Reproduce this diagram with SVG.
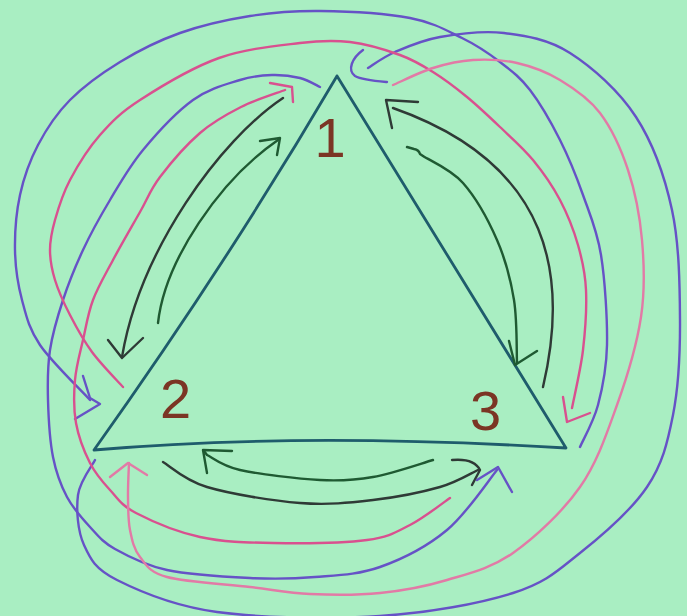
<svg xmlns="http://www.w3.org/2000/svg" width="687" height="616" viewBox="0 0 687 616">
<style>
.pen{fill:none;stroke-width:2.4;stroke-linecap:round;stroke-linejoin:round}
.tri{stroke:#1f5c6c;stroke-width:2.8}
.blk{stroke:#2f3a36}
.grn{stroke:#1f5a32}
.pnk{stroke:#d9508f}
.pnk2{stroke:#e27aa6}
.pur{stroke:#6652c6}
.lbl{font-family:"Liberation Sans",Arial,sans-serif;font-size:56px;fill:#7b3524}
</style>
<rect width="687" height="616" fill="#a9eec2"/>
<g id="triangle">
<path class="pen tri" d="M337,76 Q228,262 94,450 Q300,432 566,448 L337,76"/>
</g>
<g id="node-1"><text class="lbl" x="330" y="157" text-anchor="middle">1</text></g>
<g id="node-2"><text class="lbl" x="160" y="418">2</text></g>
<g id="node-3"><text class="lbl" x="470" y="430">3</text></g>
<g id="connectors">
<!-- direct dark arrows -->
<path class="pen blk" d="M283,98 C220,140 140,250 122,357"/>
<path class="pen blk" d="M108,340 L122,358 L143,338"/>
<path class="pen grn" d="M158,323 C165,260 220,180 278,140"/>
<path class="pen grn" d="M260,141 L280,138 L277,155"/>
<path class="pen blk" d="M543,387 C568,280 555,165 393,108"/>
<path class="pen blk" d="M418,102 L386,100 L392,128"/>
<path class="pen grn" d="M407,147 L414,149 Q419,150 420,154 L423,156 C429.7,160.5 450.7,169 463,183 S488.5,220.5 497,240 S510.7,279.5 514,300 S516.5,352.5 517,363"/>
<path class="pen grn" d="M509,341 L515,365 L537,351"/>
<path class="pen grn" d="M433,460 C423,462.8 391.8,473.7 373,477 S342.2,481.2 320,480 S258.8,474.2 240,470 S212.5,457.5 207,455 L204,451"/>
<path class="pen grn" d="M232,451 L203,450 L207,473"/>
<path class="pen blk" d="M163,462 C170.3,466.2 184.2,480.2 207,487 S272.3,500.8 300,503 S349.7,502.7 373,500 S422.5,492 440,487 S471.7,472.8 478,470"/>
<path class="pen blk" d="M452,460 Q474,458 480,470 L472,485"/>
<!-- purple: 3 to 2 over the top -->
<path class="pen pur" d="M580,447 C583,440 593.5,422 598,405 S606.5,370 607,345 S605,280 601,255 S589.8,214.2 583,195 S568.8,157.5 560,140 S540,103 530,90 S511.3,70.7 500,62 S477,45.3 462,38 S433.7,22.5 410,18 S346.7,11.3 320,11 S273.3,12.3 250,16 S201.7,25.3 180,33 S138.3,50.8 120,62 S83.7,86.2 70,100 S46.3,129.2 38,145 S23.8,177.5 20,195 S14.7,232.5 15,250 S17.8,284.2 22,300 S28.7,328.3 40,345 S81.7,390.8 90,400"/>
<path class="pen pur" d="M83,376 L90,398 L100,404 L75,419"/>
<!-- purple: 2 to 1 around bottom and right -->
<path class="pen pur" d="M95,460 C92.2,465.8 79.8,480.8 78,495 S77.5,530.8 84,545 S94.8,568.8 117,580 S173.2,606 217,612 S330.7,619.2 380,616 S479.7,603.5 513,593 S557.7,570.7 580,553 S631.5,510 647,487 S667.5,442.8 673,415 S680.2,354.2 680,320 S679.3,243.8 672,210 S653,143.2 636,117 S592,67 570,53 S525.7,35.7 504,33 S458.2,33.8 440,37 S407,46.8 395,52 S372.5,65.3 368,68"/>
<path class="pen pur" d="M363,50 C352,58 347,70 355,76 C362,80 375,81 387,82"/>
<!-- purple: 1 to 3 around left and bottom -->
<path class="pen pur" d="M320,87 C316.7,85.5 308,80 300,78 S282,74.7 272,75 S253.2,75.8 240,80 S209.2,88.3 193,100 S156.8,133.3 143,150 S120,183.3 110,200 S90.8,233.3 83,250 S68.5,283.3 63,300 S52.5,333.3 50,350 S47.5,382.2 48,400 S49.8,440.8 53,457 S60.8,485.3 67,497 S82,518.3 90,527 S102.2,541.8 115,549 S144.5,565.2 167,570 S225.3,576.8 250,578 S293.3,578.8 315,577 S358,574.8 380,567 S427.5,546.2 447,530 S488.7,480 497,470"/>
<path class="pen pur" d="M477,480 L498,467 L512,492"/>
<!-- pink: 2 to 3 over the top -->
<path class="pen pnk" d="M123,387 C117.8,381.2 100.8,364 92,352 S76.2,327 70,315 S58.3,290.8 55,280 S50,260 50,250 S51.7,231.7 55,220 S62.5,194.2 70,180 S88.3,148.3 100,135 S120.2,112.8 140,100 S192.3,67.5 219,58 S278.2,45.7 300,43 S333.3,40 350,42 S386.2,50 400,55 S421.8,65 433,72 S455.8,87.8 467,97 S489,116.5 500,127 S523,147.8 533,160 S552.5,185.8 560,200 S573.7,230 578,245 S585.2,272.5 586,290 S585.3,330.3 583,350 S573.8,398.3 572,408"/>
<path class="pen pnk" d="M563,397 L567,422 L590,413"/>
<!-- pink: 3 to 1 around bottom and left -->
<path class="pen pnk" d="M450,498 C443.3,502.5 423.8,518 410,525 S389.8,537 367,540 S300.8,543.5 273,543 S222.8,542 200,537 S151,520.8 136,513 S117.7,498.3 110,490 S95.7,474.2 90,463 S78.5,436.8 76,423 S73.8,393.8 75,380 S80,353.3 83,340 S88,313.3 93,300 S105.2,274.7 113,260 S132.2,225.8 140,212 S150,190.2 160,177 S186.5,144.7 200,133 S226.8,114.2 241,107 S277.7,92.8 285,90"/>
<path class="pen pnk" d="M270,83 L292,87 L293,102"/>
<!-- pink: 1 to 2 around right and bottom -->
<path class="pen pnk2" d="M393,85 C399.7,82.2 419.7,72.2 433,68 S459,60.8 473,60 S502.5,59.7 517,63 S546.2,71.7 560,80 S588.7,98 600,113 S621,148.8 628,170 S639.8,215.5 642,240 S645.2,289.5 641,317 S627.2,376.7 617,405 S597.3,462.3 580,487 S535.2,537.5 513,553 S469.2,573.3 447,580 S402.8,590.7 380,593 S331.7,595 310,594 S273.8,589.8 250,587 S185.3,582 167,577 S146.2,564.8 140,557 S132,540 130,530 S128.2,508.2 128,497 S128.8,468.7 129,463"/>
<path class="pen pnk2" d="M110,477 L128,463 L147,475"/>
</g>
</svg>
